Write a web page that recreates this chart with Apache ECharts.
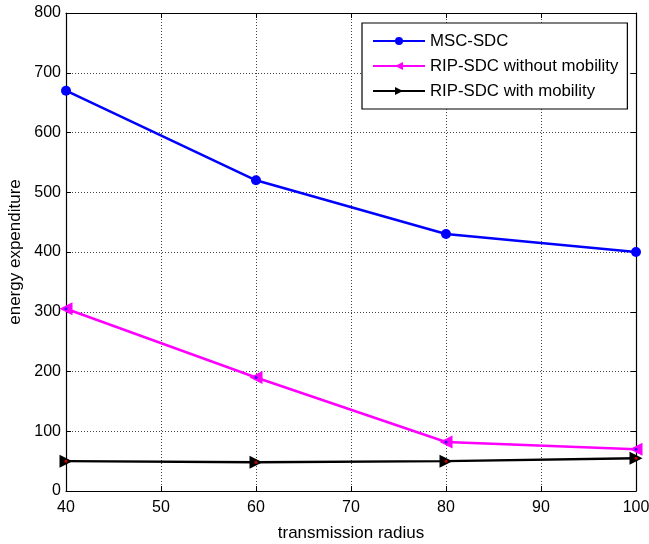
<!DOCTYPE html>
<html><head><meta charset="utf-8">
<script src="https://cdn.jsdelivr.net/npm/echarts@6/dist/echarts.min.js"></script>
<style>html,body{margin:0;padding:0;background:#fff}#c{width:649px;height:544px}</style>
</head><body><div id="c"></div>
<script>
const radius = [40, 60, 80, 100];
const mscSdc = [670, 520, 430, 400];
const ripNoMob = [305, 190, 82, 70];
const ripMob = [50, 48, 50, 55];
const seriesNames = ['MSC-SDC', 'RIP-SDC without mobility', 'RIP-SDC with mobility'];

const chart = echarts.init(document.getElementById('c'), null, {renderer: 'canvas'});
const font = 'Liberation Sans, Arial, sans-serif';
const pair = arr => radius.map((x, i) => [x, arr[i]]);
const grid = {left: 66, right: 13, top: 13, bottom: 53, containLabel: false, outerBoundsMode: 'none'};
const axisCommon = {
  axisLine: {show: true, onZero: false, lineStyle: {color: '#000', width: 1.2}},
  axisTick: {show: true, inside: true, length: 5, lineStyle: {color: '#000'}},
};
const dots = (arr, color) => ({
  type: 'scatter', data: pair(arr), symbol: 'circle', symbolSize: 3,
  itemStyle: {color: color}, silent: true, z: 5
});
chart.setOption({
  animation: false,
  backgroundColor: '#fff',
  grid: grid,
  legend: {
    orient: 'vertical',
    left: 362, top: 23,
    padding: [9, 9, 9, 10],
    itemGap: 7,
    itemWidth: 52, itemHeight: 10,
    itemTextGap: 6,
    backgroundColor: '#fff',
    borderColor: '#000', borderWidth: 1.2,
    textStyle: {fontFamily: font, fontSize: 16.8, lineHeight: 18, color: '#000'},
    data: seriesNames
  },
  xAxis: [{
    type: 'value', min: 40, max: 100, interval: 10,
    name: 'transmission radius', nameLocation: 'middle', nameGap: 34,
    nameTextStyle: {fontFamily: font, fontSize: 17, color: '#000'},
    axisLabel: {fontFamily: font, fontSize: 16, color: '#000', margin: 9},
    splitLine: {show: true, lineStyle: {color: '#444', type: [1, 2], width: 1}},
    ...axisCommon
  }, {
    type: 'value', min: 40, max: 100, interval: 10, position: 'top',
    axisLabel: {show: false}, splitLine: {show: false},
    ...axisCommon
  }],
  yAxis: [{
    type: 'value', min: 0, max: 800, interval: 100,
    name: 'energy expenditure', nameLocation: 'middle', nameGap: 40, nameRotate: 90,
    nameTextStyle: {fontFamily: font, fontSize: 17, color: '#000'},
    axisLabel: {fontFamily: font, fontSize: 16, color: '#000', margin: 5},
    splitLine: {show: true, lineStyle: {color: '#444', type: [1, 2], width: 1}},
    ...axisCommon
  }, {
    type: 'value', min: 0, max: 800, interval: 100, position: 'right',
    axisLabel: {show: false}, splitLine: {show: false},
    ...axisCommon
  }],
  series: [{
    name: seriesNames[0], type: 'line', data: pair(mscSdc),
    symbol: 'circle', symbolSize: 10,
    lineStyle: {color: '#0000ff', width: 2.5},
    itemStyle: {color: '#0000ff'}
  }, {
    name: seriesNames[1], type: 'line', data: pair(ripNoMob),
    symbol: 'triangle', symbolSize: 13, symbolRotate: 90,
    lineStyle: {color: '#ff00ff', width: 2.5},
    itemStyle: {color: '#ff00ff'}
  }, {
    name: seriesNames[2], type: 'line', data: pair(ripMob),
    symbol: 'triangle', symbolSize: 13, symbolRotate: -90,
    lineStyle: {color: '#000', width: 2.5},
    itemStyle: {color: '#000'}
  },
  dots(ripNoMob, '#0000ff'),
  dots(ripMob, '#ff0000')]
});
</script></body></html>
